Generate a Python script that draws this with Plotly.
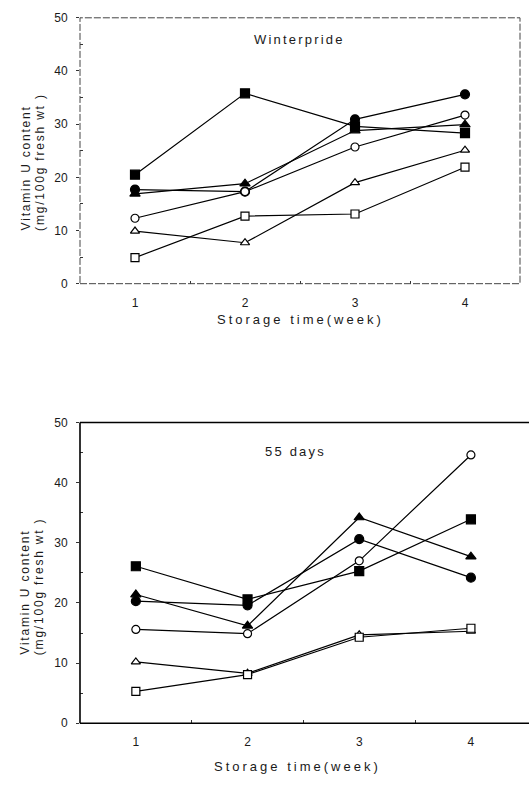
import plotly.graph_objects as go

weeks = [1, 2, 3, 4]
x_labels = ["1", "2", "3", "4"]
y_ticks = [0, 10, 20, 30, 40, 50]

series_names = ["filled square", "filled circle", "filled triangle",
                "open circle", "open triangle", "open square"]

# Winterpride
wp_filled_square = [20.5, 35.8, 29.6, 28.3]
wp_filled_circle = [17.7, 17.3, 30.9, 35.6]
wp_filled_triangle = [16.9, 18.8, 28.8, 29.9]
wp_open_circle = [12.3, 17.3, 25.7, 31.7]
wp_open_triangle = [9.9, 7.7, 19.0, 25.1]
wp_open_square = [4.9, 12.7, 13.1, 21.9]

# 55 days
d55_filled_square = [26.1, 20.6, 25.3, 33.9]
d55_filled_circle = [20.3, 19.6, 30.6, 24.2]
d55_filled_triangle = [21.4, 16.2, 34.2, 27.7]
d55_open_circle = [15.6, 14.9, 27.0, 44.6]
d55_open_triangle = [10.2, 8.3, 14.7, 15.3]
d55_open_square = [5.3, 8.1, 14.3, 15.8]

wp_series = [wp_filled_square, wp_filled_circle, wp_filled_triangle,
             wp_open_circle, wp_open_triangle, wp_open_square]
d55_series = [d55_filled_square, d55_filled_circle, d55_filled_triangle,
              d55_open_circle, d55_open_triangle, d55_open_square]

styles = [
    dict(symbol="square", color="black", size=9),
    dict(symbol="circle", color="black", size=9),
    dict(symbol="triangle-up", color="black", size=9),
    dict(symbol="circle", color="white", size=8),
    dict(symbol="triangle-up", color="white", size=8),
    dict(symbol="square", color="white", size=8),
]

fig = go.Figure()

for name, vals, st in zip(series_names, wp_series, styles):
    fig.add_trace(go.Scatter(
        x=weeks, y=vals, mode="lines+markers", name=name,
        line=dict(color="black", width=1.2),
        marker=dict(symbol=st["symbol"], color=st["color"], size=st["size"],
                    line=dict(color="black", width=1.2)),
        xaxis="x", yaxis="y", showlegend=False, cliponaxis=False))

for name, vals, st in zip(series_names, d55_series, styles):
    fig.add_trace(go.Scatter(
        x=weeks, y=vals, mode="lines+markers", name=name,
        line=dict(color="black", width=1.2),
        marker=dict(symbol=st["symbol"], color=st["color"], size=st["size"],
                    line=dict(color="black", width=1.2)),
        xaxis="x2", yaxis="y2", showlegend=False, cliponaxis=False))

W, H = 529, 785
font_main = "Liberation Sans, Arial, sans-serif"
txt_color = "#1a1a1a"


def px_x(p):
    return p / W


def px_y(p):
    return (H - p) / H


def xaxis_cfg(domain, anchor, rng):
    return dict(domain=domain, anchor=anchor, range=rng,
                tickvals=weeks, ticktext=x_labels, ticks="", showgrid=False,
                zeroline=False, showline=False, ticklabelstandoff=10,
                tickfont=dict(size=12, color=txt_color, family=font_main),
                minor=dict(tickvals=[1.5, 2.5, 3.5], ticks="inside", ticklen=3,
                           tickcolor="#333", showgrid=False))


def yaxis_cfg(domain, anchor):
    return dict(domain=domain, anchor=anchor, range=[0, 50],
                tickvals=y_ticks, ticks="outside", ticklen=3, tickcolor="#333",
                showgrid=False, zeroline=False, showline=False,
                ticklabelstandoff=6,
                tickfont=dict(size=12, color=txt_color, family=font_main),
                minor=dict(tickvals=[5, 15, 25, 35, 45], ticks="inside", ticklen=3,
                           tickcolor="#333", showgrid=False))


def spaced(text, sp):
    return '<span style="letter-spacing:%spx">%s</span>' % (sp, text)


def label(text, x, y, size=13, sp=2.2, **kw):
    d = dict(text=spaced(text, sp), xref="paper", yref="paper",
             x=px_x(x), y=px_y(y), showarrow=False,
             xanchor="center", yanchor="middle",
             font=dict(size=size, color=txt_color, family=font_main))
    d.update(kw)
    return d


annotations = [
    label("Winterpride", 299, 33),
    label("55 days", 295, 453),
    label("Storage time(week)", 300, 318, sp=3),
    label("Storage time(week)", 297, 773, sp=3),
]

# y axis titles (two lines each, bottom-aligned)
for line1_x, line2_x, bottom in [(26, 40, 230), (25, 39, 662)]:
    annotations.append(label("Vitamin U content", line1_x, bottom, size=12, sp=1.8,
                             yanchor="bottom", textangle=-90))
    annotations.append(label("(mg/100g fresh wt )", line2_x, bottom, size=12, sp=1.8,
                             yanchor="bottom", textangle=-90))

frame2 = dict(color="black", width=1.6)
fig.update_layout(
    width=W, height=H,
    margin=dict(l=0, r=0, t=0, b=0),
    paper_bgcolor="white", plot_bgcolor="white",
    xaxis=xaxis_cfg([px_x(80), px_x(520)], "y", [0.5, 4.5]),
    yaxis=yaxis_cfg([px_y(281.7), px_y(11)], "x"),
    xaxis2=xaxis_cfg([px_x(80), 1.0], "y2", [0.5, 4.52]),
    yaxis2=yaxis_cfg([px_y(729.3), px_y(423)], "x2"),
    shapes=[
        dict(type="rect", xref="x domain", yref="y domain", x0=0, x1=1, y0=0, y1=1,
             line=dict(color="#444", width=1, dash="7px,2px"), layer="above"),
        dict(type="line", xref="x2 domain", yref="y2 domain", x0=0, x1=1, y0=0, y1=0,
             line=frame2, layer="above"),
        dict(type="line", xref="x2 domain", yref="y2 domain", x0=0, x1=1, y0=1, y1=1,
             line=frame2, layer="above"),
        dict(type="line", xref="x2 domain", yref="y2 domain", x0=0, x1=0, y0=0, y1=1,
             line=frame2, layer="above"),
    ],
    annotations=annotations,
)

fig.write_html("out.html",
               config={"displayModeBar": False},
               post_script="document.body.style.margin='0';"
                           "document.body.style.overflow='hidden';")
